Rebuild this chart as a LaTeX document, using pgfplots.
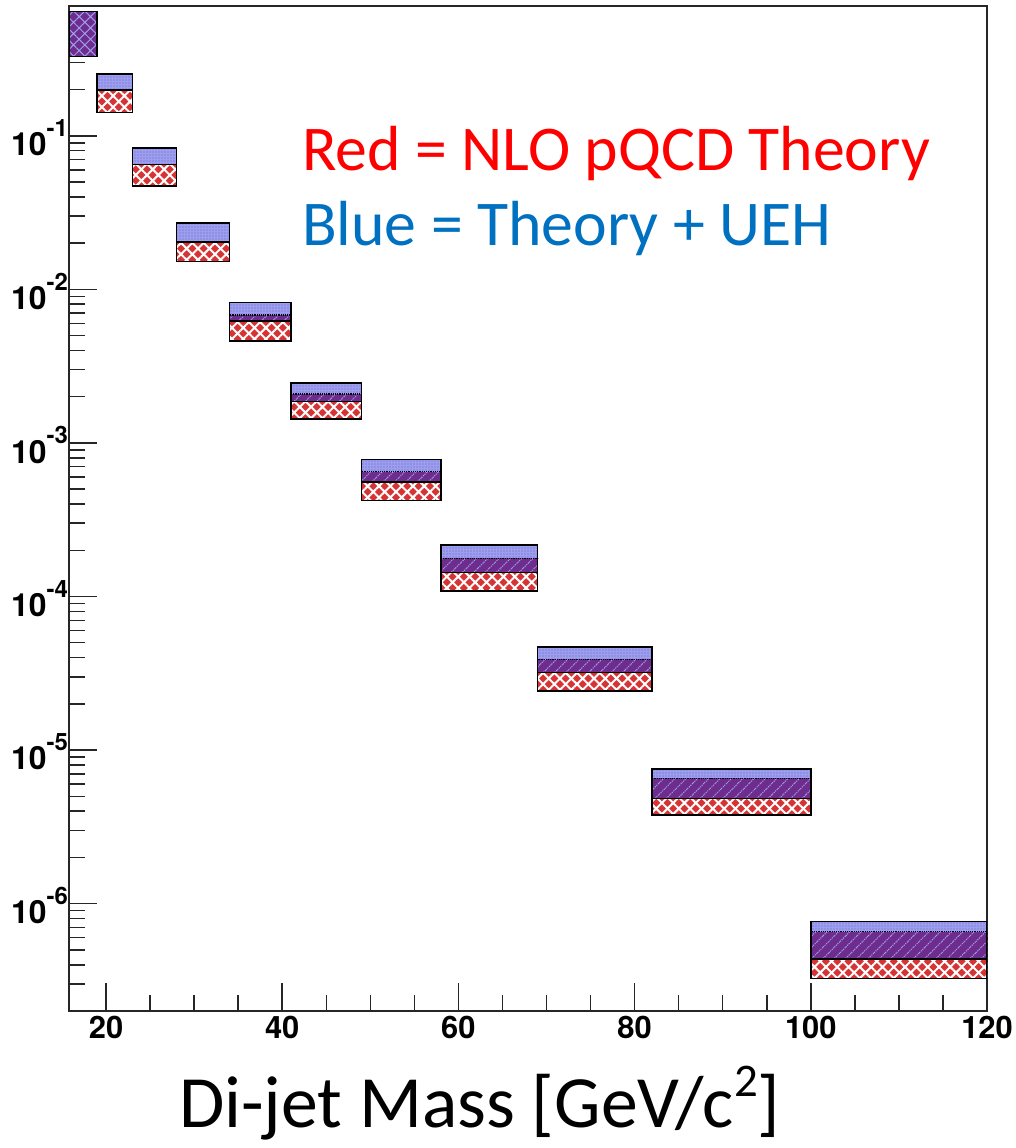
\documentclass[border=0pt]{standalone}
\usepackage{pgfplots}
\pgfplotsset{compat=1.18}
\usepackage{fontspec}
\setmainfont{Carlito}
\newfontfamily\heros{TeX Gyre Heros}
\usetikzlibrary{patterns.meta}
\definecolor{redfill}{RGB}{214,52,52}
\definecolor{bluef}{RGB}{158,158,238}
\definecolor{bluedot}{RGB}{95,95,205}
\definecolor{purplef}{RGB}{110,45,140}
\definecolor{bluetext}{RGB}{0,112,192}
\newcommand{\ex}[1]{\raisebox{0.6em}{\fontsize{24}{24}\selectfont #1}}
\tikzset{
  redbox/.style={fill=redfill, draw=black, line width=1.5bp,
    postaction={pattern={Hatch[angle=45,distance=8bp,line width=2bp]}, pattern color=white}},
  bluebox/.style={fill=bluef, draw=black, line width=1.5bp,
    postaction={pattern={Dots[distance=3bp,radius=0.6bp]}, pattern color=bluedot}},
  bluefillonly/.style={fill=bluef, draw=none,
    postaction={pattern={Dots[distance=3bp,radius=0.6bp]}, pattern color=bluedot}},
  purpbox/.style={fill=purplef, draw=black, densely dotted, line width=1.2bp,
    postaction={pattern={Lines[angle=45,distance=8bp,line width=1bp]}, pattern color=bluef}},
  purpsolid/.style={fill=purplef, draw=black, line width=1.5bp,
    postaction={pattern={Hatch[angle=45,distance=8bp,line width=1bp]}, pattern color=bluef}},
  blueline/.style={draw=black, line width=1.5bp, fill=none},
}
\begin{document}
\begin{tikzpicture}
\path[use as bounding box] (0,0) rectangle (1016bp,1148bp);
\begin{axis}[
  at={(69bp,137bp)}, anchor=south west,
  scale only axis, width=918bp, height=1005bp,
  xmin=15.8, xmax=120, ymode=log, ymin=2e-7, ymax=0.70,
  xtick={20,40,60,80,100,120}, minor x tick num=3,
  ytick={1e-6,1e-5,1e-4,1e-3,1e-2,1e-1},
  yticklabels={10\ex{-6},10\ex{-5},10\ex{-4},10\ex{-3},10\ex{-2},10\ex{-1}},
  minor ytick={2e-7,3e-7,4e-7,5e-7,6e-7,7e-7,8e-7,9e-7,
    2e-6,3e-6,4e-6,5e-6,6e-6,7e-6,8e-6,9e-6,
    2e-5,3e-5,4e-5,5e-5,6e-5,7e-5,8e-5,9e-5,
    2e-4,3e-4,4e-4,5e-4,6e-4,7e-4,8e-4,9e-4,
    2e-3,3e-3,4e-3,5e-3,6e-3,7e-3,8e-3,9e-3,
    2e-2,3e-2,4e-2,5e-2,6e-2,7e-2,8e-2,9e-2,
    2e-1,3e-1,4e-1,5e-1,6e-1},
  tick pos=left, tick align=inside,
  major tick length=28bp, minor tick length=16bp,
  every tick/.style={black!85, line width=1.5bp},
  axis line style={line width=1.8bp, black!85},
  /pgf/number format/assume math mode=true,
  xticklabel style={font=\heros\bfseries\fontsize{31}{31}\selectfont, yshift=-2bp},
  yticklabel style={font=\heros\bfseries\fontsize{32}{32}\selectfont, yshift=-2bp, inner xsep=1bp},
  no markers,
]
% bin 1 (16-19): full overlap
\addplot[purpsolid] coordinates {(15.8,0.328) (19,0.328) (19,0.644) (15.8,0.644)} -- cycle;
% bin 2 (19-23)
\addplot[redbox] coordinates {(19,0.142) (23,0.142) (23,0.199) (19,0.199)} -- cycle;
\addplot[bluebox] coordinates {(19,0.199) (23,0.199) (23,0.253) (19,0.253)} -- cycle;
% bin 3 (23-28)
\addplot[redbox] coordinates {(23,0.047) (28,0.047) (28,0.0648) (23,0.0648)} -- cycle;
\addplot[bluebox] coordinates {(23,0.0648) (28,0.0648) (28,0.0835) (23,0.0835)} -- cycle;
% bin 4 (28-34)
\addplot[redbox] coordinates {(28,0.0152) (34,0.0152) (34,0.0206) (28,0.0206)} -- cycle;
\addplot[bluefillonly] coordinates {(28,0.0203) (34,0.0203) (34,0.027) (28,0.027)} -- cycle;
\addplot[purpbox] coordinates {(28,0.0203) (34,0.0203) (34,0.0206) (28,0.0206)} -- cycle;
\addplot[blueline] coordinates {(28,0.0203) (34,0.0203) (34,0.027) (28,0.027)} -- cycle;
% bin 5 (34-41)
\addplot[redbox] coordinates {(34,0.00461) (41,0.00461) (41,0.00681) (34,0.00681)} -- cycle;
\addplot[bluefillonly] coordinates {(34,0.00622) (41,0.00622) (41,0.00819) (34,0.00819)} -- cycle;
\addplot[purpbox] coordinates {(34,0.00622) (41,0.00622) (41,0.00681) (34,0.00681)} -- cycle;
\addplot[blueline] coordinates {(34,0.00622) (41,0.00622) (41,0.00819) (34,0.00819)} -- cycle;
% bin 6 (41-49)
\addplot[redbox] coordinates {(41,0.00143) (49,0.00143) (49,0.00208) (41,0.00208)} -- cycle;
\addplot[bluefillonly] coordinates {(41,0.00186) (49,0.00186) (49,0.00245) (41,0.00245)} -- cycle;
\addplot[purpbox] coordinates {(41,0.00186) (49,0.00186) (49,0.00208) (41,0.00208)} -- cycle;
\addplot[blueline] coordinates {(41,0.00186) (49,0.00186) (49,0.00245) (41,0.00245)} -- cycle;
% bin 7 (49-58)
\addplot[redbox] coordinates {(49,0.000422) (58,0.000422) (58,0.000648) (49,0.000648)} -- cycle;
\addplot[bluefillonly] coordinates {(49,0.000555) (58,0.000555) (58,0.00078) (49,0.00078)} -- cycle;
\addplot[purpbox] coordinates {(49,0.000555) (58,0.000555) (58,0.000648) (49,0.000648)} -- cycle;
\addplot[blueline] coordinates {(49,0.000555) (58,0.000555) (58,0.00078) (49,0.00078)} -- cycle;
% bin 8 (58-69)
\addplot[redbox] coordinates {(58,0.000109) (69,0.000109) (69,0.000177) (58,0.000177)} -- cycle;
\addplot[bluefillonly] coordinates {(58,0.0001435) (69,0.0001435) (69,0.000216) (58,0.000216)} -- cycle;
\addplot[purpbox] coordinates {(58,0.0001435) (69,0.0001435) (69,0.000177) (58,0.000177)} -- cycle;
\addplot[blueline] coordinates {(58,0.0001435) (69,0.0001435) (69,0.000216) (58,0.000216)} -- cycle;
% bin 9 (69-82)
\addplot[redbox] coordinates {(69,2.42e-5) (82,2.42e-5) (82,3.90e-5) (69,3.90e-5)} -- cycle;
\addplot[bluefillonly] coordinates {(69,3.21e-5) (82,3.21e-5) (82,4.69e-5) (69,4.69e-5)} -- cycle;
\addplot[purpbox] coordinates {(69,3.21e-5) (82,3.21e-5) (82,3.90e-5) (69,3.90e-5)} -- cycle;
\addplot[blueline] coordinates {(69,3.21e-5) (82,3.21e-5) (82,4.69e-5) (69,4.69e-5)} -- cycle;
% bin 10 (82-100)
\addplot[redbox] coordinates {(82,3.77e-6) (100,3.77e-6) (100,6.55e-6) (82,6.55e-6)} -- cycle;
\addplot[bluefillonly] coordinates {(82,4.85e-6) (100,4.85e-6) (100,7.53e-6) (82,7.53e-6)} -- cycle;
\addplot[purpbox] coordinates {(82,4.85e-6) (100,4.85e-6) (100,6.55e-6) (82,6.55e-6)} -- cycle;
\addplot[blueline] coordinates {(82,4.85e-6) (100,4.85e-6) (100,7.53e-6) (82,7.53e-6)} -- cycle;
% bin 11 (100-120)
\addplot[redbox] coordinates {(100,3.25e-7) (120,3.25e-7) (120,6.58e-7) (100,6.58e-7)} -- cycle;
\addplot[bluefillonly] coordinates {(100,4.35e-7) (120,4.35e-7) (120,7.65e-7) (100,7.65e-7)} -- cycle;
\addplot[purpbox] coordinates {(100,4.35e-7) (120,4.35e-7) (120,6.58e-7) (100,6.58e-7)} -- cycle;
\addplot[blueline] coordinates {(100,4.35e-7) (120,4.35e-7) (120,7.65e-7) (100,7.65e-7)} -- cycle;
\end{axis}
\node[anchor=base west, inner sep=0pt, text=red, font=\fontsize{64}{64}\selectfont] at (302bp,977bp) {Red = NLO pQCD Theory};
\node[anchor=base west, inner sep=0pt, text=bluetext, font=\fontsize{64}{64}\selectfont] at (302bp,902bp) {Blue = Theory + UEH};
\node[anchor=base west, inner sep=0pt, text=black, font=\fontsize{74}{74}\selectfont] at (179bp,21bp) {Di-jet Mass [GeV/c\raisebox{0.42em}{\fontsize{47}{47}\selectfont 2}]};
\end{tikzpicture}
\end{document}
